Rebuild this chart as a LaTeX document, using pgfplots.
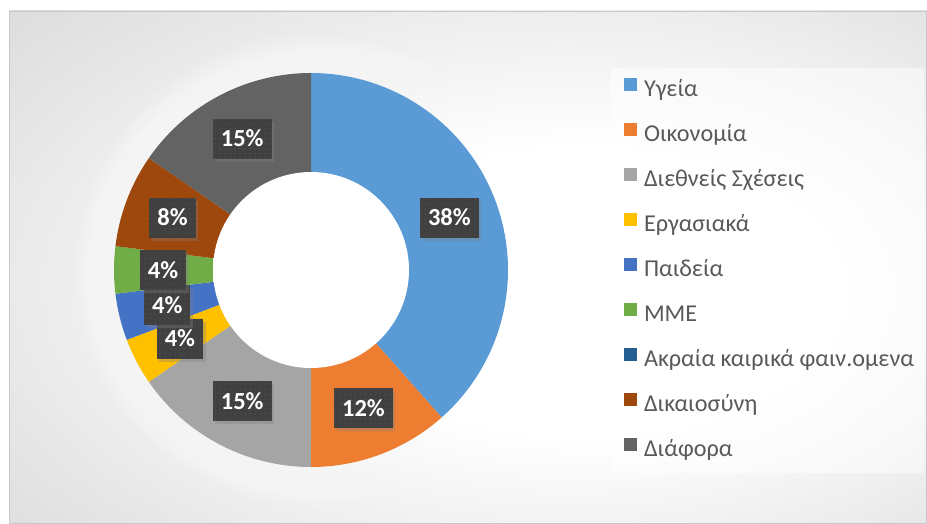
\documentclass[border=0pt]{standalone}
\usepackage{pgfplots}
\pgfplotsset{compat=1.18}
\usepackage{pgfplotstable}
\usepackage{fontspec}
\setmainfont{Carlito}
\usetikzlibrary{shadows,patterns.meta}

\definecolor{c0}{HTML}{5B9BD5}
\definecolor{c1}{HTML}{ED7D31}
\definecolor{c2}{HTML}{A5A5A5}
\definecolor{c3}{HTML}{FFC000}
\definecolor{c4}{HTML}{4472C4}
\definecolor{c5}{HTML}{70AD47}
\definecolor{c6}{HTML}{255E91}
\definecolor{c7}{HTML}{9E480E}
\definecolor{c8}{HTML}{636363}
\definecolor{lblfill}{HTML}{404040}
\definecolor{legtext}{HTML}{595959}

\pgfdeclareradialshading{bgshade}{\pgfpoint{8bp}{-3bp}}{color(0bp)=(white); color(14bp)=(white); color(38bp)=(black!13); color(50bp)=(black!21); color(70bp)=(black!26)}
\pgfdeclareradialshading{holeshade}{\pgfpointorigin}{color(0bp)=(white); color(38bp)=(white); color(50bp)=(black!14)}

% counts per topic (total 26) and the printed percentages
\pgfplotstableread{
n pct
10 38
3 12
4 15
1 4
1 4
1 4
0 0
2 8
4 15
}\piedata
\def\pietotal{26}
\def\cx{311}\def\cy{270}\def\Ro{197}\def\Ri{98}\def\Rl{148}

\tikzset{lbl/.style={fill=lblfill, text=white, font=\fontsize{24.5bp}{28bp}\selectfont\bfseries,
  inner xsep=8bp, inner ysep=0pt, minimum height=40bp, text height=17bp, text depth=1bp,
  postaction={pattern={Dots[radius=0.5bp,distance=5bp]}, pattern color=lblfill!75!white},
  drop shadow={shadow xshift=2.5bp, shadow yshift=-3bp, opacity=0.35}}}

\begin{document}
\begin{tikzpicture}
\begin{axis}[name=ax, scale only axis, width=927bp, height=524bp,
  xmin=0, xmax=927, ymin=0, ymax=524, y dir=reverse, hide axis,
  enlargelimits=false, clip=false, no markers,
  legend style={at={(axis cs:624,68)}, anchor=north west, draw=none, fill=none,
    inner sep=0pt, outer sep=0pt, row sep=0pt, column sep=7bp,
    font=\fontsize{24.2bp}{28bp}\selectfont, text=legtext,
    nodes={inner sep=0pt, minimum height=45.1bp, text height=16bp, text depth=5bp}},
  legend cell align=left,
  legend image code/.code={\fill[#1] (0bp,0bp) rectangle (13bp,13bp);},
  legend entries={Υγεία, Οικονομία, Διεθνείς Σχέσεις, Εργασιακά, Παιδεία, ΜΜΕ, Ακραία καιρικά φαιν.ομενα, Δικαιοσύνη, Διάφορα},
]
\fill[white] (axis cs:0,0) rectangle (axis cs:927,524);
\shade[shading=bgshade] (axis cs:9,11) rectangle (axis cs:927,524);
\draw[black!22, line width=1.2bp] (axis cs:9.5,11.5) rectangle (axis cs:926.5,523.5);
\pgfplotsinvokeforeach{200,203,...,236}{\fill[white, opacity=0.09] (axis cs:\cx,\cy) circle[radius=#1 bp];}

\def\cum{0}
\pgfplotsforeachungrouped \i in {0,...,8}{%
  \pgfplotstablegetelem{\i}{n}\of\piedata
  \let\val\pgfplotsretval
  \pgfmathsetmacro\aS{90-360*\cum/\pietotal}%
  \pgfmathsetmacro\cum{\cum+\val}%
  \pgfmathsetmacro\aE{90-360*\cum/\pietotal}%
  \ifdim\val pt>0pt
    \edef\tmp{\noexpand\addplot[fill=c\i, draw=none, domain=\aE:\aS, samples=90]
      ({\cx+\Ro*cos(x)},{\cy-\Ro*sin(x)}) -- (axis cs:\cx,\cy) -- cycle;}\tmp
  \else
    \edef\tmp{\noexpand\addlegendimage{fill=c\i, draw=none}}\tmp
  \fi
}

\shade[shading=holeshade] (axis cs:\cx,\cy) circle[radius=98bp];
\fill[white, opacity=0.5] (axis cs:611,68) rectangle (axis cs:924,473);

\def\cum{0}
\pgfplotsforeachungrouped \i in {0,...,8}{%
  \pgfplotstablegetelem{\i}{n}\of\piedata
  \let\val\pgfplotsretval
  \pgfplotstablegetelem{\i}{pct}\of\piedata
  \let\pct\pgfplotsretval
  \pgfmathsetmacro\am{90-360*(\cum+0.5*\val)/\pietotal}%
  \pgfmathsetmacro\cum{\cum+\val}%
  \ifdim\val pt>0pt
    \pgfmathsetmacro\lx{\cx+\Rl*cos(\am)}%
    \pgfmathsetmacro\ly{\cy-\Rl*sin(\am)}%
    \edef\tmp{\noexpand\node[lbl] at (axis cs:\lx,\ly) {\pct\noexpand\%};}\tmp
  \fi
}
\end{axis}
\pgfresetboundingbox
\path[use as bounding box] (ax.south west) rectangle (ax.north east);
\end{tikzpicture}
\end{document}
